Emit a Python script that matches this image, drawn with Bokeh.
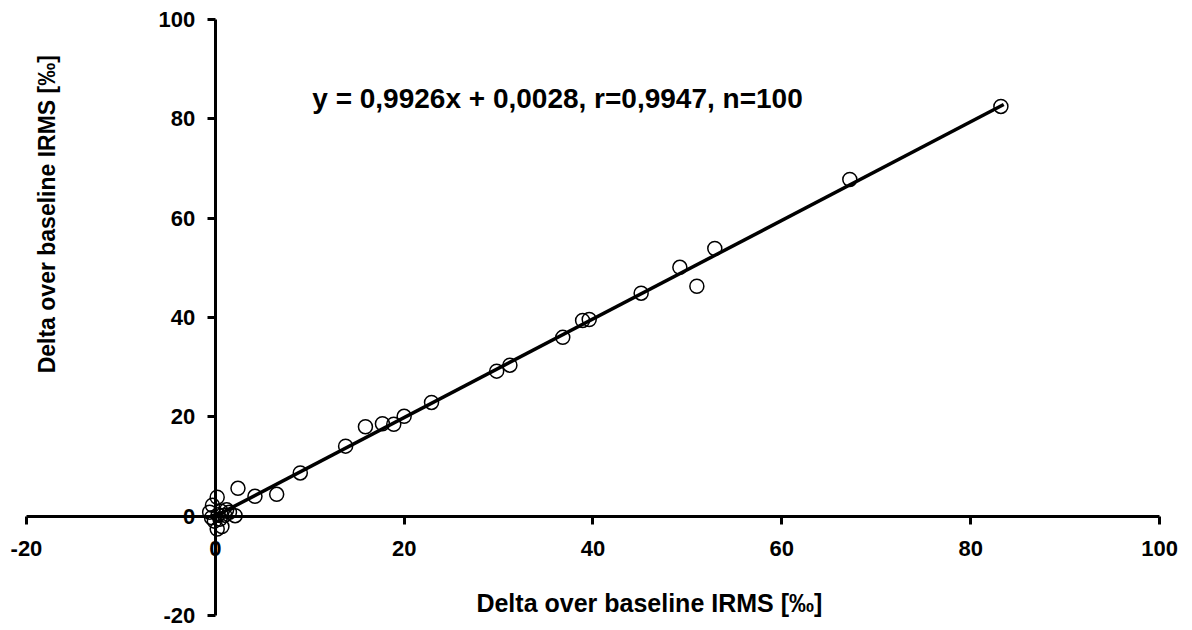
import math
from bokeh.plotting import figure
from bokeh.models import LinearAxis, FixedTicker, Range1d, Label, PrintfTickFormatter
from bokeh.embed import file_html
from bokeh.resources import INLINE

# ---- data ----
x_values = [83.2, 67.2, 52.9, 49.2, 51.0, 45.1, 38.9, 39.6, 36.8, 29.8, 31.2,
            22.9, 20.0, 18.9, 17.7, 15.9, 13.8, 9.0, 6.5, 4.2, 2.4,
            0.2, -0.3, -0.6, 0.6, 0.3, 1.0, 2.1, -0.1, 0.7, 0.2, 1.2, -0.4, 0.5, 1.5]
y_values = [82.5, 67.8, 53.9, 50.1, 46.3, 44.9, 39.4, 39.6, 36.0, 29.2, 30.4,
            22.9, 20.1, 18.5, 18.6, 18.0, 14.1, 8.7, 4.4, 4.0, 5.6,
            3.8, 2.2, 0.8, 1.0, 0.3, 0.2, 0.1, -1.0, -2.1, -2.6, 1.3, -0.3, -0.6, 0.8]
tick_values = [-20, 0, 20, 40, 60, 80, 100]
slope = 0.9926
intercept = 0.0028
fit_x = [-0.3, 83.5]
fit_y = [slope * v + intercept for v in fit_x]
equation_text = "y = 0,9926x + 0,0028, r=0,9947, n=100"
x_title = "Delta over baseline IRMS [\u2030]"
y_title = "Delta over baseline IRMS [\u2030]"

FONT = "Liberation Sans"
W, H = 1183, 628

p = figure(width=W, height=H, output_backend="svg", toolbar_location=None,
           x_range=Range1d(-22.75, 102.54), y_range=Range1d(-22.62, 103.83),
           x_axis_location=None, y_axis_location=None, min_border=0,
           outline_line_color=None, background_fill_color="white")
p.grid.visible = False


def style_axis(ax, standoff):
    ax.axis_line_width = 3
    ax.axis_line_color = "black"
    ax.major_tick_line_width = 3
    ax.major_tick_line_color = "black"
    ax.major_tick_out = 8
    ax.major_tick_in = 0
    ax.minor_tick_out = 0
    ax.minor_tick_in = 0
    ax.major_label_text_font = FONT
    ax.major_label_text_font_style = "bold"
    ax.major_label_text_font_size = "22px"
    ax.major_label_text_color = "black"
    ax.major_label_standoff = standoff
    ax.formatter = PrintfTickFormatter(format="%d")


xaxis = LinearAxis(fixed_location=0, ticker=FixedTicker(ticks=tick_values), bounds=(-20, 100))
style_axis(xaxis, 17)
p.add_layout(xaxis, "below")

yaxis = LinearAxis(fixed_location=0, ticker=FixedTicker(ticks=tick_values), bounds=(-20, 100))
style_axis(yaxis, 12)
p.add_layout(yaxis, "left")

p.line(fit_x, fit_y, line_color="black", line_width=3.5)
p.scatter(x_values, y_values, marker="circle", size=14, fill_color=None,
          line_color="black", line_width=1.5)

p.add_layout(Label(x=10.27, y=84.0, text=equation_text, text_font=FONT,
                   text_font_style="bold", text_font_size="28px",
                   text_baseline="middle", text_align="left", text_color="black"))
p.add_layout(Label(x=45.97, y=-17.5, text=x_title, text_font=FONT,
                   text_font_style="bold", text_font_size="25px",
                   text_baseline="middle", text_align="center", text_color="black"))
p.add_layout(Label(x=-17.8, y=60.8, text=y_title, text_font=FONT,
                   text_font_style="bold", text_font_size="23px", angle=math.pi / 2,
                   text_baseline="middle", text_align="center", text_color="black"))

open("out.html", "w").write(file_html(p, INLINE))
